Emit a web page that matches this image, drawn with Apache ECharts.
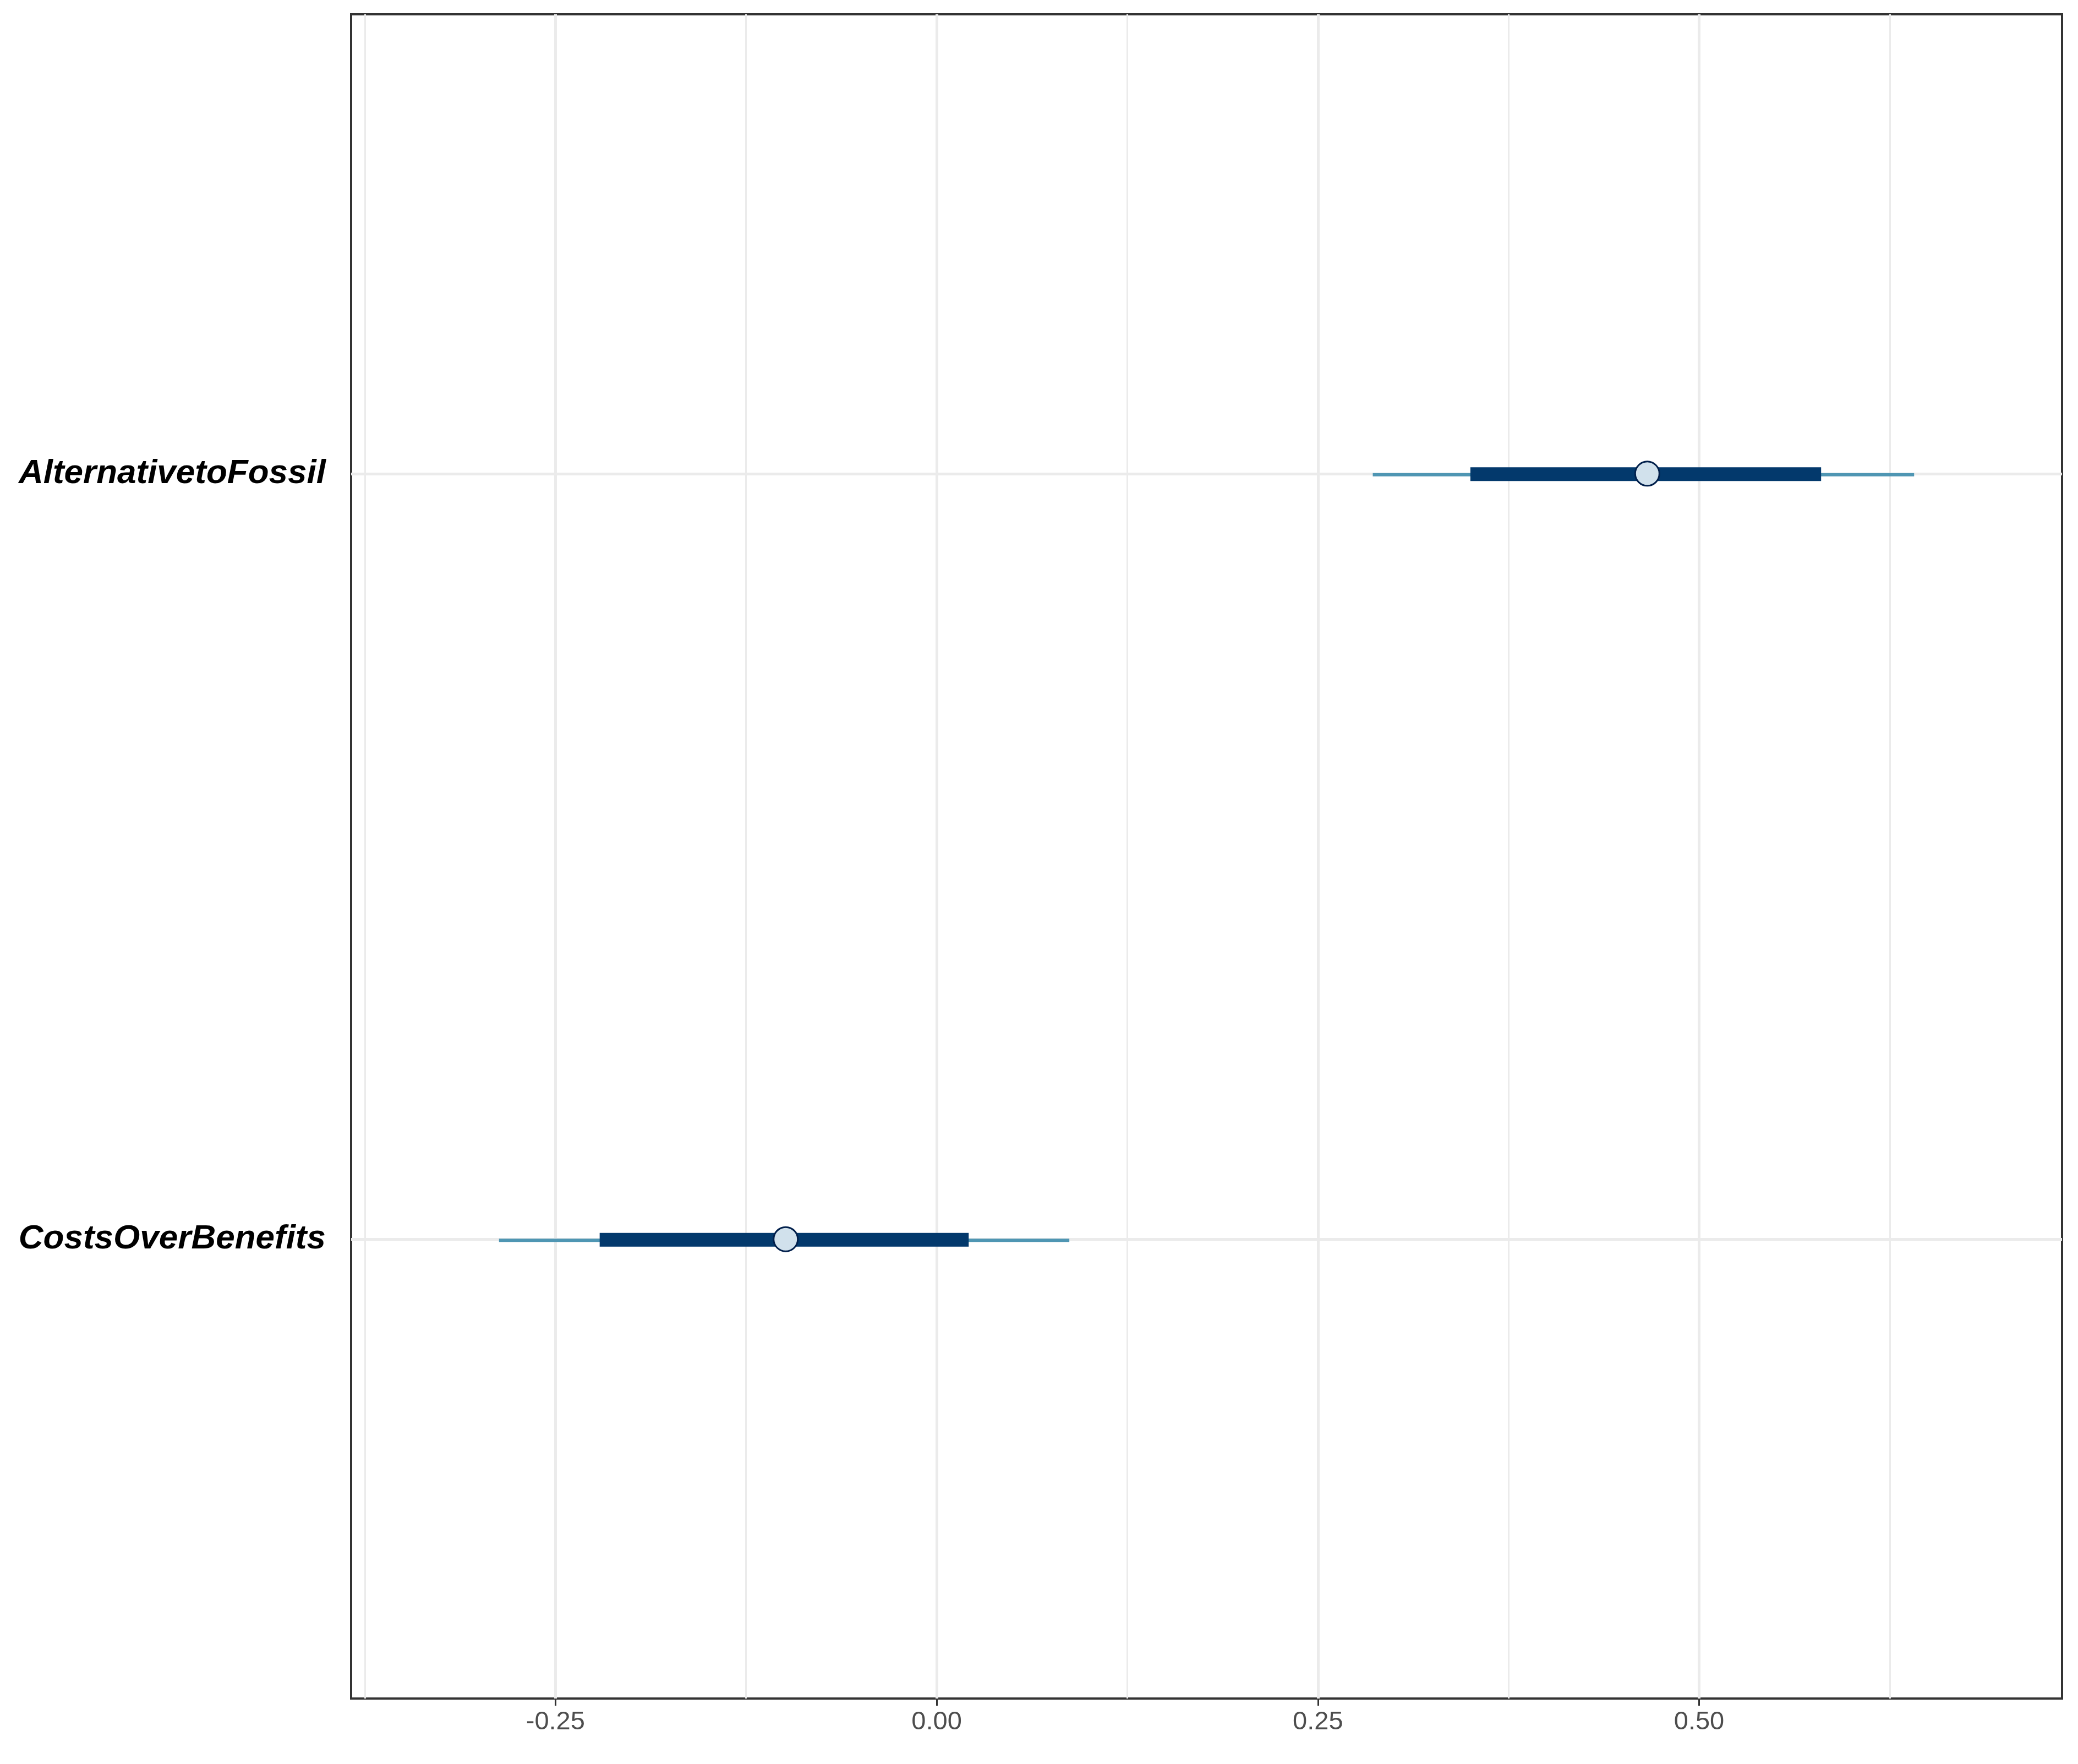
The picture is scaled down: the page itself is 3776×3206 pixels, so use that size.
<!DOCTYPE html>
<html>
<head>
<meta charset="utf-8">
<script src="https://cdn.jsdelivr.net/npm/echarts@6/dist/echarts.min.js"></script>
<style>
html,body{margin:0;padding:0;background:#fff;}
#chart{width:3776px;height:3206px;}
</style>
</head>
<body>
<div id="chart"></div>
<script>
// Parameters, bottom to top
const parameters = ['CostsOverBenefits', 'AlternativetoFossil'];
const outerLow  = [-0.287, 0.286];
const innerLow  = [-0.221, 0.350];
const medians   = [-0.099, 0.466];
const innerHigh = [0.021, 0.580];
const outerHigh = [0.087, 0.641];

const xTicks = [-0.25, 0, 0.25, 0.5];
const xMinorGrid = [-0.375, -0.125, 0.125, 0.375, 0.625];

const FONT = "'Liberation Sans', Arial, sans-serif";

const data = parameters.map((p, i) => [i + 1, outerLow[i], innerLow[i], medians[i], innerHigh[i], outerHigh[i]]);

const chart = echarts.init(document.getElementById('chart'), null, {renderer: 'canvas'});

const gridMarks = []
  .concat(xMinorGrid.map(v => ({xAxis: v, lineStyle: {color: '#ebebeb', width: 3, type: 'solid'}})))
  .concat(xTicks.map(v => ({xAxis: v, lineStyle: {color: '#ebebeb', width: 5, type: 'solid'}})))
  .concat(parameters.map((p, i) => ({yAxis: i + 1, lineStyle: {color: '#ebebeb', width: 5, type: 'solid'}})));

chart.setOption({
  animation: false,
  backgroundColor: '#ffffff',
  grid: {
    left: 638, right: 29, top: 26, bottom: 119,
    show: true, borderColor: '#333333', borderWidth: 4, backgroundColor: '#ffffff',
    containLabel: false
  },
  xAxis: {
    type: 'value',
    min: -0.384, max: 0.738,
    axisLine: {show: false},
    axisTick: {show: true, length: 13, lineStyle: {color: '#333333', width: 3}, customValues: xTicks},
    axisLabel: {
      customValues: xTicks,
      margin: 20,
      fontSize: 47, fontFamily: FONT, color: '#4d4d4d',
      formatter: v => v.toFixed(2)
    },
    splitLine: {show: false}
  },
  yAxis: {
    type: 'value',
    min: 0.4, max: 2.6,
    axisLine: {show: false},
    axisTick: {show: true, length: 13, lineStyle: {color: '#333333', width: 3}, customValues: parameters.map((p, i) => i + 1)},
    axisLabel: {
      customValues: parameters.map((p, i) => i + 1),
      margin: 46,
      fontSize: 62, fontFamily: FONT, fontWeight: 'bold', fontStyle: 'italic', color: '#000000',
      formatter: v => parameters[Math.round(v) - 1] || ''
    },
    splitLine: {show: false}
  },
  series: [
    {
      type: 'line',
      data: [],
      silent: true,
      z: 1,
      markLine: {
        silent: true,
        z: 1,
        precision: 6,
        symbol: ['none', 'none'],
        label: {show: false},
        animation: false,
        data: gridMarks
      }
    },
    {
      type: 'custom',
      z: 10,
      data: data,
      encode: {x: [1, 2, 3, 4, 5], y: 0},
      renderItem: function (params, api) {
        const y = api.value(0);
        const oL = api.coord([api.value(1), y]);
        const iL = api.coord([api.value(2), y]);
        const m  = api.coord([api.value(3), y]);
        const iH = api.coord([api.value(4), y]);
        const oH = api.coord([api.value(5), y]);
        return {
          type: 'group',
          children: [
            {type: 'line', shape: {x1: oL[0], y1: oL[1] + 2, x2: oH[0], y2: oH[1] + 2},
             style: {stroke: '#4f96b3', lineWidth: 6, lineCap: 'butt'}},
            {type: 'line', shape: {x1: iL[0], y1: iL[1] + 1, x2: iH[0], y2: iH[1] + 1},
             style: {stroke: '#03396c', lineWidth: 25, lineCap: 'butt'}},
            {type: 'circle', shape: {cx: m[0], cy: m[1], r: 22},
             style: {fill: '#d1e1ec', stroke: '#011f4b', lineWidth: 3}}
          ]
        };
      }
    }
  ]
});
</script>
</body>
</html>
